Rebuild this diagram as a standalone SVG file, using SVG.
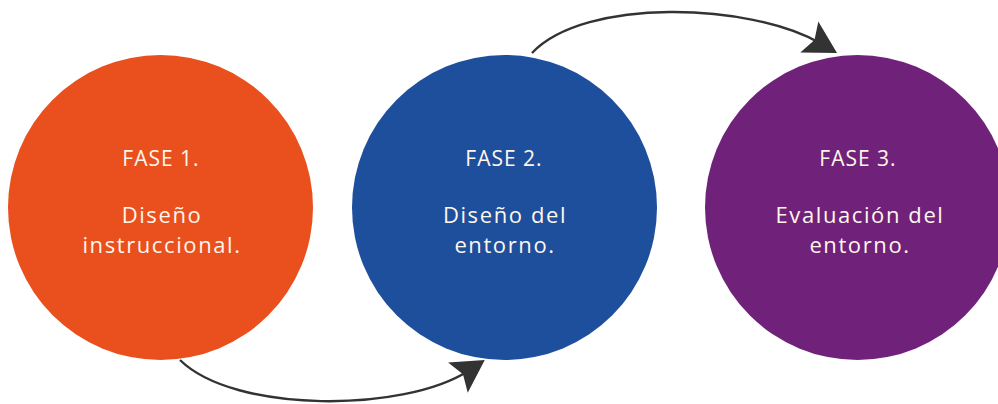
<svg xmlns="http://www.w3.org/2000/svg" width="998" height="404" viewBox="0 0 998 404">
  <defs>
    <style>
      .lbl { font-family: "Open Sans", "Liberation Sans", sans-serif; font-size: 21px; letter-spacing: 1px; fill: #FFF6EC; text-anchor: middle; }
      .big { font-size: 22px; letter-spacing: 1.6px; }
      .conn { fill: none; stroke: #333333; stroke-width: 2.4; }
    </style>
    <marker id="arrow" markerUnits="userSpaceOnUse" markerWidth="60" markerHeight="60" refX="0" refY="0" orient="auto" overflow="visible" viewBox="-20 -30 60 60">
      <path d="M20,0 L-12,-18 L-6,0 L-12,18 Z" fill="#333333"/>
    </marker>
  </defs>
  <rect width="998" height="404" fill="#FFFFFF"/>
  <g id="connectors">
    <path class="conn" d="M180,360 C235,414 405,412 468,371" marker-end="url(#arrow)"/>
    <path class="conn" d="M532,53 C585,-3 750.5,3 819.7,43" marker-end="url(#arrow)"/>
  </g>
  <g id="fase1">
    <circle cx="160.5" cy="207.5" r="152.5" fill="#E9501D"/>
    <text class="lbl" x="161" y="166">FASE 1.</text>
    <text class="lbl big" x="162" y="223">Diseño</text>
    <text class="lbl big" x="162" y="253">instruccional.</text>
  </g>
  <g id="fase2">
    <circle cx="504.5" cy="207.5" r="152.5" fill="#1E4F9C"/>
    <text class="lbl" x="504" y="166">FASE 2.</text>
    <text class="lbl big" x="505" y="223">Diseño del</text>
    <text class="lbl big" x="505" y="253">entorno.</text>
  </g>
  <g id="fase3">
    <circle cx="857.5" cy="207.5" r="152.5" fill="#70227A"/>
    <text class="lbl" x="858" y="166">FASE 3.</text>
    <text class="lbl big" x="860" y="223" letter-spacing="2.4">Evaluación del</text>
    <text class="lbl big" x="860" y="253">entorno.</text>
  </g>
</svg>
